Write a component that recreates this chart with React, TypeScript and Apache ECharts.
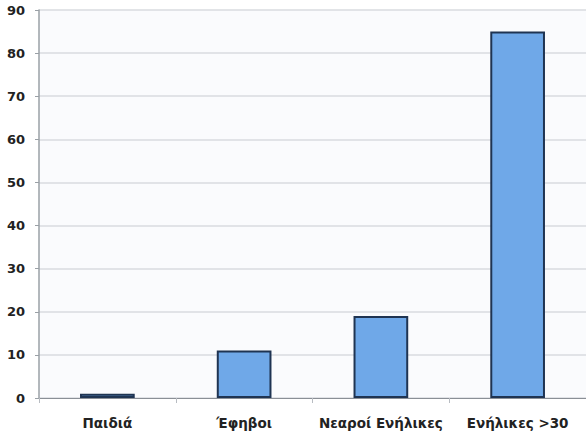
import React, { useEffect, useRef } from "react";
import * as echarts from "echarts";

const categories = ["Παιδιά", "Έφηβοι", "Νεαροί Ενήλικες", "Ενήλικες >30"];
const values = [1, 11, 19, 85];
const yMin = 0;
const yMax = 90;
const yStep = 10;

export default function App() {
  const ref = useRef<HTMLDivElement>(null);

  useEffect(() => {
    if (!ref.current) return;
    const chart = echarts.init(ref.current, null, { renderer: "svg" });
    const font = {
      fontFamily: "DejaVu Sans, Verdana, sans-serif",
      fontWeight: "bold" as const,
      color: "#222",
    };
    chart.setOption({
      animation: false,
      backgroundColor: "#ffffff",
      grid: {
        left: 39,
        right: 0,
        top: 10,
        bottom: 36,
        show: true,
        backgroundColor: "#fafbfd",
        borderWidth: 0,
      },
      xAxis: {
        type: "category",
        data: categories,
        axisLine: { show: true, lineStyle: { color: "#8a8f96", width: 1 } },
        axisTick: {
          show: true,
          alignWithLabel: false,
          inside: false,
          length: 5,
          lineStyle: { color: "#b8bcc2" },
        },
        axisLabel: { ...font, fontSize: 13.5, margin: 18, interval: 0 },
        splitLine: { show: false },
      },
      yAxis: {
        type: "value",
        min: yMin,
        max: yMax,
        interval: yStep,
        axisLine: { show: true, lineStyle: { color: "#9aa0a6", width: 1.5 } },
        axisTick: { show: true, length: 4, lineStyle: { color: "#9aa0a6" } },
        axisLabel: { ...font, fontSize: 13, margin: 14 },
        splitLine: { show: true, lineStyle: { color: "#d8dbdf", width: 1.5 } },
      },
      series: [
        {
          type: "bar",
          data: values,
          barWidth: "40%",
          itemStyle: {
            color: "#6fa8e8",
            borderColor: "#1f3452",
            borderWidth: 2,
          },
        },
      ],
    });
    return () => chart.dispose();
  }, []);

  return (
    <div
      ref={ref}
      style={{ width: 586, height: 434, position: "absolute", left: 0, top: 0 }}
    />
  );
}
